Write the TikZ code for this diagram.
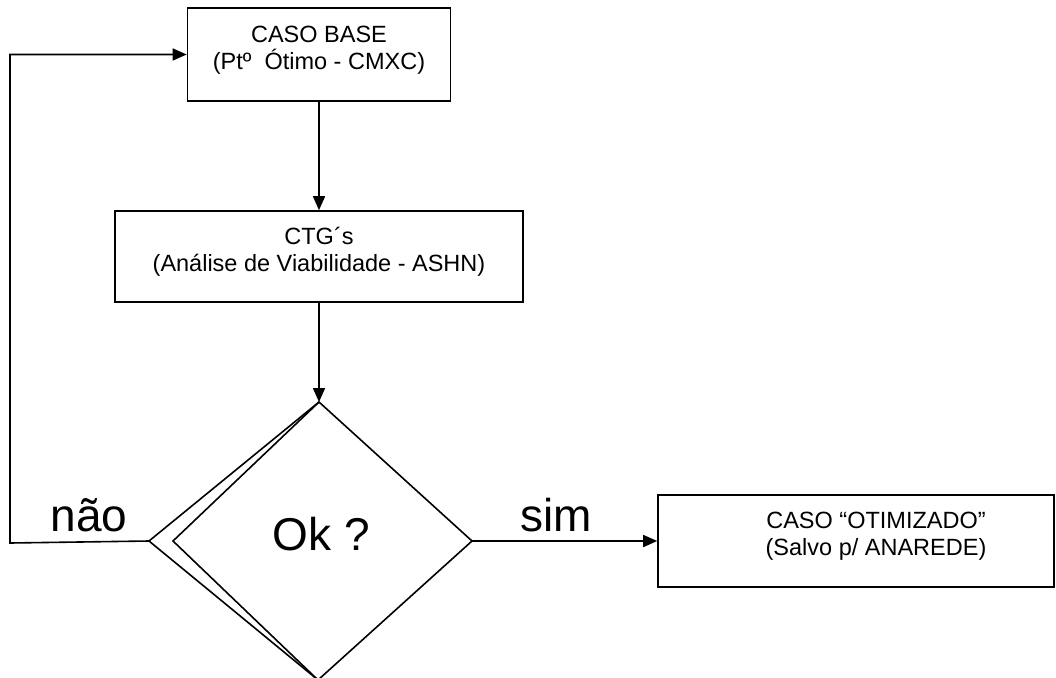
\documentclass[tikz,border=0pt]{standalone}
\usepackage{fontspec}
\setmainfont{Liberation Sans}
\usepackage{tikz}
\usetikzlibrary{arrows.meta}
\tikzset{box/.style={draw, rectangle, line width=1.6pt, inner sep=0pt},
         desc/.style={align=center, inner sep=0pt, font=\fontsize{23.5}{27.5}\selectfont},
         big/.style={inner sep=0pt, font=\fontsize{46}{52}\selectfont},
         arr/.style={line width=1.6pt, -{Triangle[length=14pt,width=12pt]}}}

\begin{document}
\begin{tikzpicture}[x=1pt,y=-1pt]
\useasboundingbox (0,0) rectangle (1056,677);
\node[box, minimum width=263pt, minimum height=93pt] (base) at (319,54.5) {};
\node[desc] (baseTxt) at (319,50) {CASO BASE\\(Ptº~\ Ótimo - CMXC)};
\node[box, minimum width=408pt, minimum height=91pt] (ctg) at (319,256.5) {};
\node[desc] (ctgTxt) at (319,252) {CTG´s\\(Análise de Viabilidade - ASHN)};
\coordinate (okTop) at (319,402);
\coordinate (okLeft) at (149,541);
\coordinate (okIn) at (173,541);
\coordinate (okRight) at (472,541);
\coordinate (okBot) at (318,680);
\draw[line width=1.6pt, line join=miter] (okTop) -- (okRight) -- (okBot) -- (okLeft) -- cycle;
\draw[line width=1.6pt, line join=miter] (okTop) -- (okIn) -- (okBot);
\node[big, anchor=base] (okTxt) at (321.5,550) {Ok ?};
\node[box, minimum width=396pt, minimum height=92pt] (otim) at (856,541) {};
\node[desc] (otimTxt) at (876,536) {CASO “OTIMIZADO”\\(Salvo p/ ANAREDE)};
\node[big, anchor=base] (nao) at (89,531) {não};
\node[big, anchor=base] (sim) at (556,531) {sim};
\coordinate (loopLow) at (10,543);
\draw[arr] (base.south) -- (ctg.north);
\draw[arr] (ctg.south) -- (okTop);
\draw[arr] (okRight) -- (otim.west);
\draw[arr] (okLeft) -- (loopLow) |- (base.west);
\end{tikzpicture}
\end{document}
